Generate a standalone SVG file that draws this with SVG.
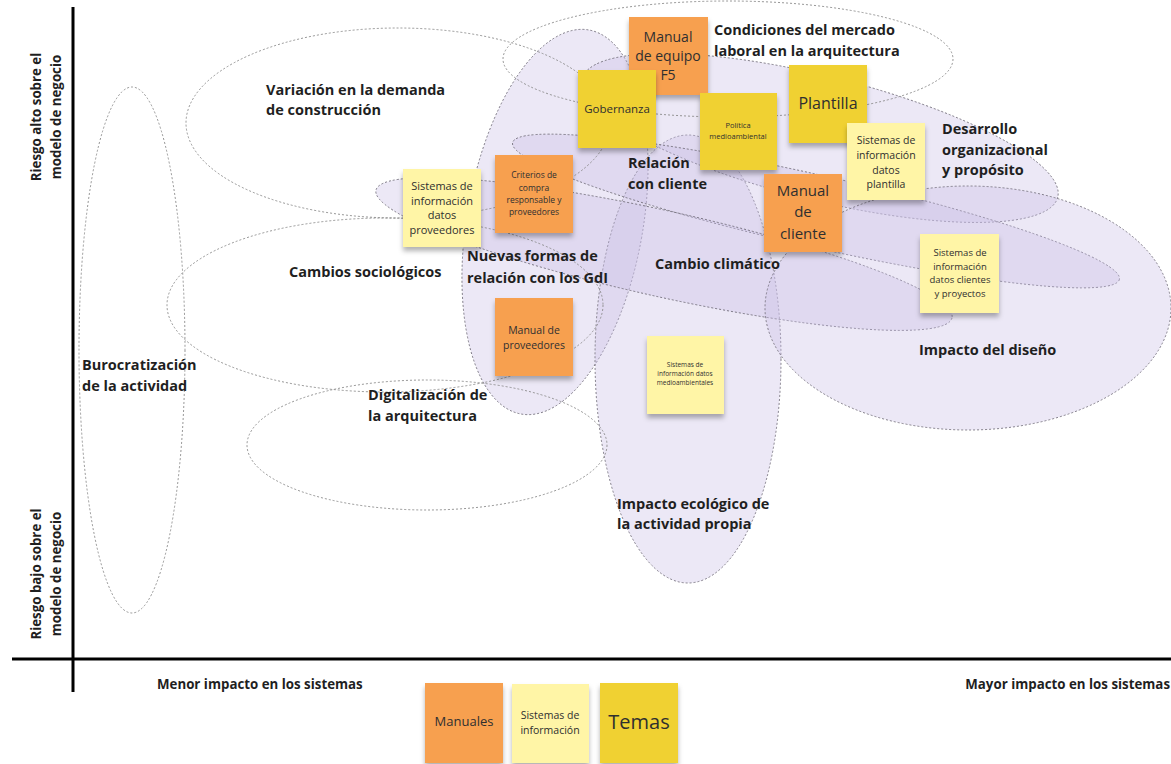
<svg xmlns="http://www.w3.org/2000/svg" width="1171" height="764" viewBox="0 0 1171 764">
<defs>
<style>
.zone{fill:#c9bfe6;fill-opacity:.36;stroke:#77737f;stroke-width:.9;stroke-dasharray:2 2}
.ring{fill:none;stroke:#8a8a8a;stroke-width:.9;stroke-dasharray:2 2}
.lbl{font-family:"Open Sans","Noto Sans","DejaVu Sans",sans-serif;font-weight:700;font-size:14.5px;fill:#1f1f1f}
.ax{font-family:"Open Sans","Noto Sans","DejaVu Sans",sans-serif;font-weight:700;font-size:13.3px;fill:#1f1f1f}
.nt{font-family:"Open Sans","Noto Sans","DejaVu Sans",sans-serif;fill:#2f2f2f;text-anchor:middle}
.or{fill:#f7a04f;filter:url(#sh)}
.ye{fill:#f0d131;filter:url(#sh)}
.ly{fill:#fff5a6;filter:url(#sh)}
.axis{stroke:#000;stroke-width:3;fill:none}
</style>
<filter id="sh" x="-10%" y="-10%" width="120%" height="130%">
<feDropShadow dx="0" dy="4" stdDeviation="2.5" flood-color="#000" flood-opacity="0.3"/>
</filter>
</defs>
<rect width="1171" height="764" fill="#fff"/>

<g id="zones">
<ellipse id="z-gdi" class="zone" cx="555" cy="222" rx="88" ry="195" transform="rotate(10 555 222)"/>
<ellipse id="z-ecologico" class="zone" cx="688" cy="359" rx="93" ry="224"/>
<ellipse id="z-desarrollo" class="zone" cx="820" cy="138" rx="245" ry="62" transform="rotate(14 820 138)"/>
<ellipse id="z-relacion" class="zone" cx="816" cy="211" rx="311" ry="36" transform="rotate(12.7 816 211)"/>
<ellipse id="z-cambio" class="zone" cx="664" cy="254" rx="295" ry="43" transform="rotate(12.5 664 254)"/>
<ellipse id="z-diseno" class="zone" cx="968" cy="308" rx="203" ry="122"/>
<ellipse id="z-buro" class="ring" cx="132" cy="350" rx="53" ry="263"/>
<ellipse id="z-variacion" class="ring" cx="398" cy="123" rx="212" ry="95"/>
<ellipse id="z-condiciones" class="ring" cx="728" cy="59" rx="225" ry="58"/>
<ellipse id="z-sociologicos" class="ring" cx="385" cy="305" rx="218" ry="87"/>
<ellipse id="z-digitalizacion" class="ring" cx="427" cy="445" rx="180" ry="65"/>
</g>

<g id="axes">
<line class="axis" x1="73" y1="7" x2="73" y2="692"/>
<line class="axis" x1="12" y1="659" x2="1171" y2="659"/>
<text class="ax" text-anchor="middle" transform="translate(41 117) rotate(-90)">Riesgo alto sobre el</text>
<text class="ax" text-anchor="middle" transform="translate(61 117) rotate(-90)">modelo de negocio</text>
<text class="ax" text-anchor="middle" transform="translate(41 574) rotate(-90)">Riesgo bajo sobre el</text>
<text class="ax" text-anchor="middle" transform="translate(61 574) rotate(-90)">modelo de negocio</text>
<text class="ax" x="157" y="689">Menor impacto en los sistemas</text>
<text class="ax" x="1170" y="689" text-anchor="end">Mayor impacto en los sistemas</text>
</g>

<g id="labels">
<text class="lbl" x="266" y="95">Variación en la demanda</text>
<text class="lbl" x="266" y="115">de construcción</text>
<text class="lbl" x="714" y="35">Condiciones del mercado</text>
<text class="lbl" x="714" y="56">laboral en la arquitectura</text>
<text class="lbl" x="942" y="134">Desarrollo</text>
<text class="lbl" x="942" y="155">organizacional</text>
<text class="lbl" x="942" y="175">y propósito</text>
<text class="lbl" x="628" y="168">Relación</text>
<text class="lbl" x="628" y="189">con cliente</text>
<text class="lbl" x="467" y="261">Nuevas formas de</text>
<text class="lbl" x="467" y="283">relación con los GdI</text>
<text class="lbl" x="655" y="269">Cambio climático</text>
<text class="lbl" x="289" y="277">Cambios sociológicos</text>
<text class="lbl" x="82" y="370">Burocratización</text>
<text class="lbl" x="82" y="391">de la actividad</text>
<text class="lbl" x="368" y="400">Digitalización de</text>
<text class="lbl" x="368" y="421">la arquitectura</text>
<text class="lbl" x="919" y="355">Impacto del diseño</text>
<text class="lbl" x="617" y="509">Impacto ecológico de</text>
<text class="lbl" x="617" y="529">la actividad propia</text>
</g>

<g id="n-manual-equipo">
<rect class="or" x="629" y="17" width="79" height="78"/>
<text class="nt" font-size="14" x="668" y="42">Manual</text>
<text class="nt" font-size="14" x="668" y="61">de equipo</text>
<text class="nt" font-size="14" x="668" y="80">F5</text>
</g>
<g id="n-gobernanza">
<rect class="ye" x="578" y="70" width="78" height="78"/>
<text class="nt" font-size="11.5" x="617" y="113">Gobernanza</text>
</g>
<g id="n-politica">
<rect class="ye" x="700" y="93" width="77" height="77"/>
<text class="nt" font-size="7.5" x="738" y="128">Política</text>
<text class="nt" font-size="7.5" x="738" y="139">medioambiental</text>
</g>
<g id="n-plantilla">
<rect class="ye" x="789" y="65" width="78" height="78"/>
<text class="nt" font-size="16" x="828" y="109">Plantilla</text>
</g>
<g id="n-si-plantilla">
<rect class="ly" x="847" y="123" width="78" height="77"/>
<text class="nt" font-size="10.5" x="886" y="144">Sistemas de</text>
<text class="nt" font-size="10.5" x="886" y="159">información</text>
<text class="nt" font-size="10.5" x="886" y="174">datos</text>
<text class="nt" font-size="10.5" x="886" y="188">plantilla</text>
</g>
<g id="n-criterios">
<rect class="or" x="495" y="155" width="78" height="78"/>
<text class="nt" font-size="8.5" x="534" y="178">Criterios de</text>
<text class="nt" font-size="8.5" x="534" y="191">compra</text>
<text class="nt" font-size="8.5" x="534" y="203">responsable y</text>
<text class="nt" font-size="8.5" x="534" y="215">proveedores</text>
</g>
<g id="n-si-proveedores">
<rect class="ly" x="403" y="169" width="78" height="78"/>
<text class="nt" font-size="11" x="442" y="190">Sistemas de</text>
<text class="nt" font-size="11" x="442" y="205">información</text>
<text class="nt" font-size="11" x="442" y="219">datos</text>
<text class="nt" font-size="11" x="442" y="234">proveedores</text>
</g>
<g id="n-manual-cliente">
<rect class="or" x="764" y="174" width="78" height="78"/>
<text class="nt" font-size="15" x="803" y="196">Manual</text>
<text class="nt" font-size="15" x="803" y="217">de</text>
<text class="nt" font-size="15" x="803" y="239">cliente</text>
</g>
<g id="n-si-clientes">
<rect class="ly" x="920" y="234" width="79" height="79"/>
<text class="nt" font-size="9.5" x="960" y="256">Sistemas de</text>
<text class="nt" font-size="9.5" x="960" y="270">información</text>
<text class="nt" font-size="9.5" x="960" y="283">datos clientes</text>
<text class="nt" font-size="9.5" x="960" y="297">y proyectos</text>
</g>
<g id="n-manual-proveedores">
<rect class="or" x="495" y="298" width="78" height="78"/>
<text class="nt" font-size="10.5" x="534" y="334">Manual de</text>
<text class="nt" font-size="10.5" x="534" y="349">proveedores</text>
</g>
<g id="n-si-medioambientales">
<rect class="ly" x="647" y="336" width="77" height="78"/>
<text class="nt" font-size="6.5" x="685" y="367">Sistemas de</text>
<text class="nt" font-size="6.5" x="685" y="376">información datos</text>
<text class="nt" font-size="6.5" x="685" y="385">medioambientales</text>
</g>

<g id="legend">
<g id="leg-manuales">
<rect class="or" x="425" y="683" width="78" height="80"/>
<text class="nt" font-size="13" x="464" y="726">Manuales</text>
</g>
<g id="leg-sistemas">
<rect class="ly" x="512" y="684" width="77" height="79"/>
<text class="nt" font-size="10.5" x="550" y="719">Sistemas de</text>
<text class="nt" font-size="10.5" x="550" y="734">información</text>
</g>
<g id="leg-temas">
<rect class="ye" x="600" y="683" width="78" height="80"/>
<text class="nt" font-size="20" x="639" y="729">Temas</text>
</g>
</g>
</svg>
